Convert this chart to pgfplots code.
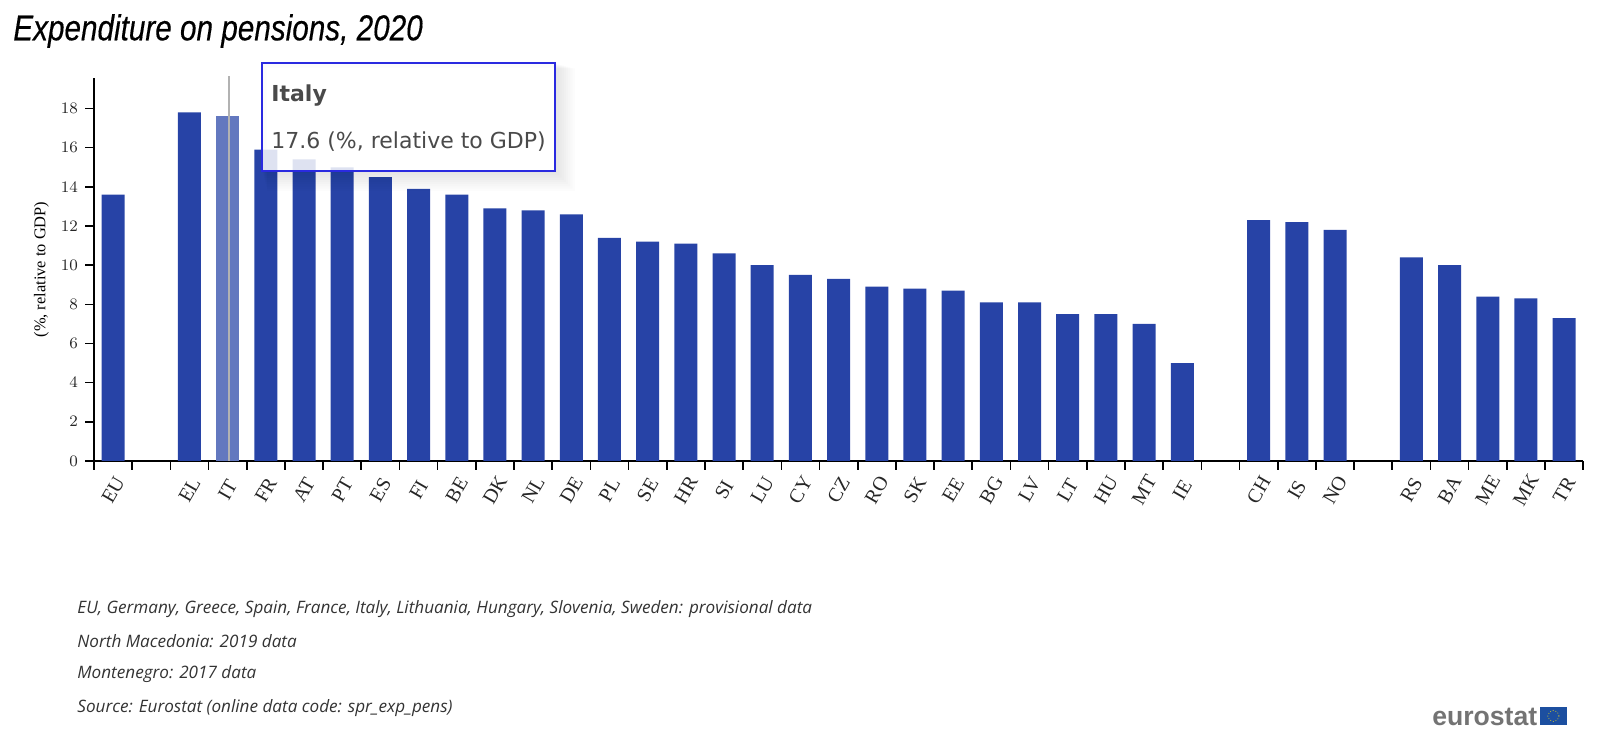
\documentclass[border=0pt]{standalone}
\usepackage{pgfplots}
\pgfplotsset{compat=1.18}
\usepackage{fontspec}
\setmainfont{Liberation Serif}
\newfontfamily\dv{DejaVu Sans}
\newfontfamily\op{Open Sans}
\newfontfamily\ls{Liberation Sans}
\newfontfamily\ttl[ItalicFeatures={FakeBold=0.35}]{Liberation Sans}
\definecolor{barblue}{HTML}{2743A6}
\definecolor{ttborder}{HTML}{2A2AE0}
\definecolor{ttext}{HTML}{4A4A4A}
\definecolor{flagblue}{HTML}{1C4FA0}
\pgfplotstableread{
x v
0 13.6
2 17.8
4 15.9
5 15.4
6 15.0
7 14.5
8 13.9
9 13.6
10 12.9
11 12.8
12 12.6
13 11.4
14 11.2
15 11.1
16 10.6
17 10.0
18 9.5
19 9.3
20 8.9
21 8.8
22 8.7
23 8.1
24 8.1
25 7.5
26 7.5
27 7.0
28 5.0
30 12.3
31 12.2
32 11.8
34 10.4
35 10.0
36 8.4
37 8.3
38 7.3
}\bars
\pgfplotstableread{
x v
3 17.6
}\italy
\begin{document}
\begin{tikzpicture}[x=1pt,y=1pt]
\path[use as bounding box] (0,0) rectangle (800,374);
\begin{axis}[
  at={(47pt,143.5pt)},anchor=south west,
  width=744.6pt,height=191.5pt,scale only axis,
  xmin=-0.5,xmax=38.5,ymin=0,ymax=19.56,
  axis lines=left,
  axis line style={black,line width=1pt,-},
  tick style={black,line width=0.8pt},
  xtick={-0.5,0.5,1.5,2.5,3.5,4.5,5.5,6.5,7.5,8.5,9.5,10.5,11.5,12.5,13.5,14.5,15.5,16.5,17.5,18.5,19.5,20.5,21.5,22.5,23.5,24.5,25.5,26.5,27.5,28.5,29.5,30.5,31.5,32.5,33.5,34.5,35.5,36.5,37.5,38.5},
  x tick label as interval,
  xticklabels={EU,,EL,IT,FR,AT,PT,ES,FI,BE,DK,NL,DE,PL,SE,HR,SI,LU,CY,CZ,RO,SK,EE,BG,LV,LT,HU,MT,IE,,CH,IS,NO,,RS,BA,ME,MK,TR},
  major tick length=4.5pt,
  ytick={0,2,...,18},
  yticklabel style={font=\fontsize{8}{9}\selectfont,text=black!85},
  xticklabel style={font=\fontsize{10}{10}\selectfont,text=black!85,anchor=center,yshift=-10pt,rotate=60},
  tick align=outside,
  xtick pos=bottom,ytick pos=left,
  ylabel={(\%, relative to GDP)},
  ylabel style={font=\fontsize{8.2}{9}\selectfont,at={(axis description cs:0,0.5)},anchor=south,yshift=19pt},
  clip=false,
  ybar,bar width=11.5pt,
]
\addplot[fill=barblue,draw=none,bar shift=0pt] table[x=x,y=v]{\bars};
\addplot[fill=barblue!72!white,draw=none,bar shift=0pt] table[x=x,y=v]{\italy};
\end{axis}
\draw[black!30,line width=0.6pt] (114.5,143.5) -- (114.5,336);
\foreach \d in {0,1,...,9}
  \fill[black,fill opacity=0.012,even odd rule] (131+\d*0.3,288.5-\d*1.1) rectangle (277.5+\d*1.1,342.5-\d*0.3) (131,288.5) rectangle (277.5,342.5);
\fill[white,fill opacity=0.85] (131,288.5) rectangle (277.5,342.5);
\draw[ttborder,line width=0.6pt] (131,288.5) rectangle (277.5,342.5);
\node[anchor=west,inner sep=0pt,text=ttext,font=\dv\bfseries\fontsize{11}{12}\selectfont] at (135.5,326) {Italy};
\node[anchor=west,inner sep=0pt,text=ttext,font=\dv\fontsize{11}{12}\selectfont] at (135.5,303) {17.6 (\%, relative to GDP)};
\node[anchor=west,inner sep=0pt,font=\ttl\itshape\fontsize{18}{20}\selectfont,xscale=0.825] at (6.5,358.5) {Expenditure on pensions, 2020};
\foreach \yy/\t in {69.7/{EU, Germany, Greece, Spain, France, Italy, Lithuania, Hungary, Slovenia, Sweden: provisional data},53.5/{North Macedonia: 2019 data},36.9/{Montenegro: 2017 data},20.2/{Source: Eurostat (online data code: spr\_exp\_pens)}}
  \node[anchor=west,inner sep=0pt,text=black!80,font=\op\itshape\fontsize{8.56}{10}\selectfont] at (38.5,\yy) {\t};
\node[anchor=east,inner sep=0pt,text=black!55,font=\ls\bfseries\fontsize{13.3}{14}\selectfont] at (768.8,15.5) {eurostat};
\fill[flagblue] (770,11.5) rectangle (783.5,20.5);
\draw[yellow!75!black,line width=0.4pt,densely dotted] (776.7,16) circle (2.8pt);
\end{tikzpicture}
\end{document}
